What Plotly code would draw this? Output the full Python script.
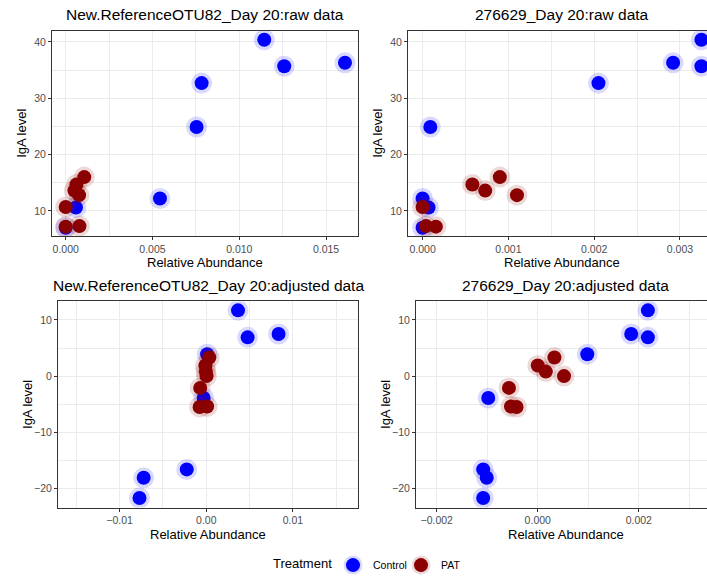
import plotly.graph_objects as go

# IgA level for each animal (same order across panels)
ctrl_iga_raw = [40.4, 35.7, 36.3, 32.7, 24.9, 12.2, 10.6, 7.0]
pat_iga_raw = [16.0, 14.7, 13.6, 12.8, 10.7, 7.3, 7.2]
ctrl_iga_adj = [11.7, 6.9, 7.5, 3.9, -3.9, -16.6, -18.1, -21.7]
pat_iga_adj = [3.3, 1.9, 0.8, 0.0, -2.1, -5.4, -5.5]

# Relative abundance, New.ReferenceOTU82
otu82_ctrl_raw = [0.01144, 0.01259, 0.01609, 0.00783, 0.00754, 0.00543, 0.00059, 0.0]
otu82_pat_raw = [0.00107, 0.00062, 0.00050, 0.00077, 0.0, 0.00079, 0.0]
otu82_ctrl_adj = [0.00366, 0.00477, 0.00834, 0.00010, -0.00030, -0.00225, -0.00722, -0.00770]
otu82_pat_adj = [0.00035, -0.00010, -0.00005, 0.00003, -0.00070, 0.00010, -0.00077]

# Relative abundance, 276629
o276_ctrl_raw = [0.00325, 0.00325, 0.00292, 0.00205, 0.00009, 0.0, 0.00007, 0.0]
o276_pat_raw = [0.00090, 0.00058, 0.00073, 0.00110, 0.0, 0.00004, 0.000155]
o276_ctrl_adj = [0.00218, 0.00218, 0.00185, 0.00098, -0.00098, -0.00108, -0.00101, -0.00108]
o276_pat_adj = [0.00033, 0.0, 0.00016, 0.00052, -0.00057, -0.00053, -0.00042]

titles = [
    "New.ReferenceOTU82_Day 20:raw data",
    "276629_Day 20:raw data",
    "New.ReferenceOTU82_Day 20:adjusted data",
    "276629_Day 20:adjusted data",
]

W, H = 707, 580
FONT = "Liberation Sans, Arial, Helvetica, sans-serif"
BLUE = "#0000FF"
RED = "#8B0000"
HALO_BLUE = "rgba(0,0,255,0.15)"
HALO_RED = "rgba(139,0,0,0.15)"

# panel boxes in pixels: (left, right, top, bottom)
boxes = [
    (52, 358, 31, 238),
    (408, 707, 31, 238),
    (58, 358, 304, 512),
    (416, 707, 304, 512),
]

panels = [
    dict(cx=otu82_ctrl_raw, cy=ctrl_iga_raw, px=otu82_pat_raw, py=pat_iga_raw,
         xr=[-0.00079, 0.01684], yr=[5.55, 42.0], xd=0.005, xf=".3f", yd=10),
    dict(cx=o276_ctrl_raw, cy=ctrl_iga_raw, px=o276_pat_raw, py=pat_iga_raw,
         xr=[-0.00017, 0.003315], yr=[5.55, 42.0], xd=0.001, xf=".3f", yd=10),
    dict(cx=otu82_ctrl_adj, cy=ctrl_iga_adj, px=otu82_pat_adj, py=pat_iga_adj,
         xr=[-0.0171, 0.0175], yr=[-23.4, 13.3], xd=0.01, xf=".2f", yd=10),
    dict(cx=o276_ctrl_adj, cy=ctrl_iga_adj, px=o276_pat_adj, py=pat_iga_adj,
         xr=[-0.00241, 0.00335], yr=[-23.4, 13.3], xd=0.002, xf=".3f", yd=10),
]

fig = go.Figure()
layout = dict(
    width=W, height=H,
    margin=dict(l=0, r=0, t=0, b=0),
    paper_bgcolor="white", plot_bgcolor="white",
    font=dict(family=FONT, color="#4D4D4D"),
    showlegend=True,
)
annotations = []

for i, (p, (l, r, t, b)) in enumerate(zip(panels, boxes)):
    n = i + 1
    xa = "x" if n == 1 else f"x{n}"
    ya = "y" if n == 1 else f"y{n}"
    xkey = "xaxis" if n == 1 else f"xaxis{n}"
    ykey = "yaxis" if n == 1 else f"yaxis{n}"
    right_cut = r >= W
    layout[xkey] = dict(
        domain=[l / W, r / W], anchor=ya, range=p["xr"],
        dtick=p["xd"], tick0=0, tickformat=p["xf"],
        showgrid=True, gridcolor="#EBEBEB", gridwidth=1.1,
        minor=dict(dtick=p["xd"] / 2, showgrid=True, gridcolor="#EBEBEB", gridwidth=0.55),
        zeroline=False, showline=True, linecolor="#333333", linewidth=1.1,
        mirror=True, ticks="outside", ticklen=3, tickcolor="#333333", tickwidth=1,
        tickfont=dict(size=10.5, color="#4D4D4D", family=FONT), automargin=False,
    )
    layout[ykey] = dict(
        domain=[1 - b / H, 1 - t / H], anchor=xa, range=p["yr"],
        dtick=p["yd"], tick0=0,
        showgrid=True, gridcolor="#EBEBEB", gridwidth=1.1,
        minor=dict(dtick=p["yd"] / 2, showgrid=True, gridcolor="#EBEBEB", gridwidth=0.55),
        zeroline=False, showline=True, linecolor="#333333", linewidth=1.1,
        mirror=not right_cut, ticks="outside", ticklen=3, tickcolor="#333333", tickwidth=1,
        tickfont=dict(size=10.5, color="#4D4D4D", family=FONT), automargin=False,
    )

    fig.add_trace(go.Scatter(
        x=p["cx"], y=p["cy"], mode="markers", xaxis=xa, yaxis=ya,
        name="Control", legendgroup="Control", showlegend=(n == 1),
        marker=dict(color=BLUE, size=14, line=dict(color=HALO_BLUE, width=7)),
        cliponaxis=True, hoverinfo="skip",
    ))
    fig.add_trace(go.Scatter(
        x=p["px"], y=p["py"], mode="markers", xaxis=xa, yaxis=ya,
        name="PAT", legendgroup="PAT", showlegend=(n == 1),
        marker=dict(color=RED, size=14, line=dict(color=HALO_RED, width=7)),
        cliponaxis=True, hoverinfo="skip",
    ))

    # panel title
    cx = (l + r) / 2 if not right_cut else (l + 715) / 2
    annotations.append(dict(
        text=titles[i], x=cx / W, y=1 - (t - 16) / H, xref="paper", yref="paper",
        xanchor="center", yanchor="middle", showarrow=False,
        font=dict(size=15.5, color="black", family=FONT),
    ))
    # axis titles
    annotations.append(dict(
        text="Relative Abundance", x=((l + (r if not right_cut else 715)) / 2) / W,
        y=1 - (b + 27) / H, xref="paper", yref="paper",
        xanchor="center", yanchor="middle", showarrow=False,
        font=dict(size=13, color="black", family=FONT),
    ))
    annotations.append(dict(
        text="IgA level", x=(l - 30.5) / W, y=1 - ((t + b) / 2) / H,
        xref="paper", yref="paper", xanchor="center", yanchor="middle",
        showarrow=False, textangle=-90,
        font=dict(size=13, color="black", family=FONT),
    ))

# legend title
annotations.append(dict(
    text="Treatment", x=302 / W, y=1 - 568 / H, xref="paper", yref="paper",
    xanchor="center", yanchor="middle", showarrow=False,
    font=dict(size=13, color="black", family=FONT),
))

layout["annotations"] = annotations
layout["legend"] = dict(
    orientation="h", x=333 / W, xanchor="left", y=1 - 570 / H, yanchor="middle",
    font=dict(size=10.5, color="black", family=FONT), entrywidth=23,
    bgcolor="rgba(0,0,0,0)", itemclick=False, itemdoubleclick=False,
)
fig.update_layout(**layout)
fig.write_html("out.html")
